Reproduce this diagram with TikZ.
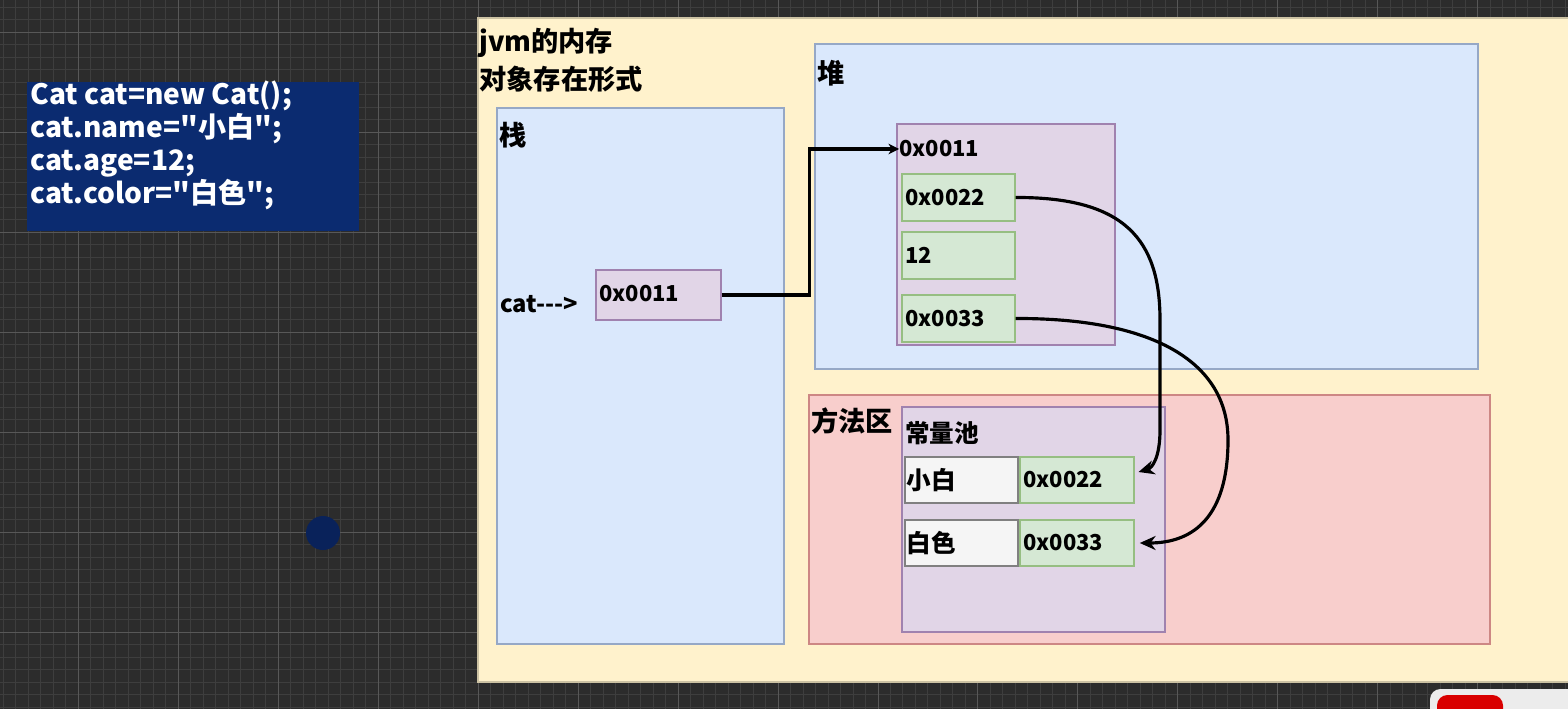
\documentclass[tikz,border=0pt]{standalone}
\usepackage{fontspec}
\setmainfont{Noto Sans CJK SC}[Ligatures=TeXOff]
\usetikzlibrary{arrows.meta,positioning,fit}
\definecolor{bgdark}{RGB}{44,44,44}
\definecolor{gridminor}{RGB}{62,62,62}
\definecolor{gridmajor}{RGB}{88,88,88}
\definecolor{codeblue}{RGB}{11,43,112}
\definecolor{jvmyellow}{RGB}{255,242,204}
\definecolor{stackblue}{RGB}{218,232,252}
\definecolor{stackline}{RGB}{150,168,198}
\definecolor{objpurple}{RGB}{225,213,231}
\definecolor{objline}{RGB}{160,130,175}
\definecolor{fieldgreen}{RGB}{213,232,212}
\definecolor{fieldline}{RGB}{150,190,130}
\definecolor{methodred}{RGB}{248,206,204}
\definecolor{methodline}{RGB}{184,84,80}
\definecolor{strwhite}{RGB}{245,245,245}

\begin{document}
\begin{tikzpicture}[x=0.02cm, y=-0.02cm,
  font=\bfseries\fontsize{12.5}{15}\selectfont,
  area/.style={draw=#1, line width=0.6pt, inner sep=0pt},
  lbl/.style={anchor=west, inner sep=0pt},
  biglbl/.style={lbl, font=\bfseries\fontsize{15.5}{18}\selectfont},
  link/.style={line width=1.8pt, -{Stealth[length=9pt, width=8pt]}}]
\useasboundingbox (0,0) rectangle (1568,709);
% dark canvas with grid
\fill[bgdark] (0,0) rectangle (1568,709);
\draw[gridminor, step=0.25cm, shift={(78,32)}] (-100,-100) grid (1600,800);
\draw[gridmajor, step=2cm, shift={(78,32)}] (-100,-100) grid (1600,800);
\fill[codeblue!80!black] (323,533) circle (17);
% code snippet
\fill[codeblue] (27,82) rectangle (359,231);
\node[anchor=north west, inner sep=0pt, text=white, align=left,
  font=\bfseries\fontsize{16}{18.6}\selectfont] (code) at (30,81)
  {Cat cat=new Cat();\\cat.name="小白";\\cat.age=12;\\cat.color="白色";};
% jvm panel
\node[area=jvmyellow!80!black, fill=jvmyellow, fit={(478,18) (1570,682)}] (jvm) {};
\node[biglbl] (title1) at (479,43) {jvm的内存};
\node[biglbl] (title2) at (479,79) {对象存在形式};
% stack
\node[area=stackline, fill=stackblue, fit={(497,108) (784,644)}] (stack) {};
\node[biglbl] (stacklbl) at (499,135) {栈};
\node[lbl, font=\bfseries\fontsize{13.5}{16}\selectfont] (catlbl) at (500,304) {cat--->};
\node[area=objline, fill=objpurple, fit={(596,270) (721,320)},
  label={[lbl, xshift=2pt, yshift=1pt]west:0x0011}] (ref) {};
% heap
\node[area=stackline, fill=stackblue, fit={(815,44) (1478,369)}] (heap) {};
\node[biglbl] (heaplbl) at (817,73) {堆};
\node[area=objline, fill=objpurple, fit={(897,124) (1115,345)}] (obj) {};
\node[lbl] (objlbl) at (899,149) {0x0011};
\node[area=fieldline, fill=fieldgreen, fit={(902,174) (1015,221)},
  label={[lbl, xshift=2pt]west:0x0022}] (name) {};
\node[area=fieldline, fill=fieldgreen, fit={(902,232) (1015,279)},
  label={[lbl, xshift=2pt]west:12}] (age) {};
\node[area=fieldline, fill=fieldgreen, fit={(902,295) (1015,342)},
  label={[lbl, xshift=2pt]west:0x0033}] (color) {};
% method area
\node[area=methodline!70, fill=methodred, fit={(809,395) (1490,644)}] (method) {};
\node[biglbl] (methodlbl) at (811,421) {方法区};
\node[area=objline, fill=objpurple, fit={(902,407) (1165,632)}] (pool) {};
\node[biglbl, font=\bfseries\fontsize{14}{16}\selectfont] (poollbl) at (905,433) {常量池};
\node[area=gray, fill=strwhite, fit={(905,457) (1018,503)},
  label={[biglbl, font=\bfseries\fontsize{14}{16}\selectfont, xshift=1pt]west:小白}] (str1) {};
\node[area=fieldline, fill=fieldgreen, fit={(1020,457) (1134,503)},
  label={[lbl, xshift=2pt]west:0x0022}] (addr1) {};
\node[area=gray, fill=strwhite, fit={(905,520) (1018,566)},
  label={[biglbl, font=\bfseries\fontsize{14}{16}\selectfont, xshift=1pt]west:白色}] (str2) {};
\node[area=fieldline, fill=fieldgreen, fit={(1020,520) (1134,566)},
  label={[lbl, xshift=2pt]west:0x0033}] (addr2) {};
% references
\draw[link, -{Stealth[length=6pt, width=6pt]}] (ref.east) -- ++(88,0) |- (objlbl.west);
\draw[link] (name.east) .. controls (1125,197) and (1160,240) .. (1160,320)
  -- (1160,430) .. controls (1160,458) and (1152,468) .. ([shift={(4,-8)}]addr1.east);
\draw[link] (color.east) .. controls (1150,318) and (1228,360) .. (1228,440)
  .. controls (1228,515) and (1195,543) .. ([xshift=3pt]addr2.east);
% corner widget
\fill[gray!15, rounded corners=6] (1430,689) rectangle (1580,720);
\fill[red!85!black, rounded corners=6] (1437,695) rectangle (1503,720);
\end{tikzpicture}
\end{document}
